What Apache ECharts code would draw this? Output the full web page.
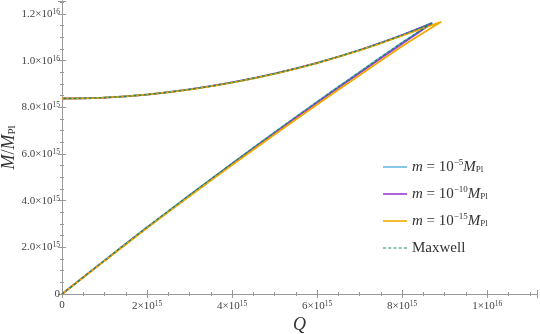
<!DOCTYPE html>
<html>
<head>
<meta charset="utf-8">
<title>M vs Q</title>
<script src="https://cdn.jsdelivr.net/npm/echarts@6/dist/echarts.min.js"></script>
<style>
  html, body { margin: 0; padding: 0; background: #fff; }
  #chart { width: 540px; height: 334px; }
</style>
</head>
<body>
<div id="chart"></div>
<script>
// values in units of 1e15
// each curve: lower branch out to the cusp, then upper branch back to Q = 0
var q5  = [0, 1, 2, 3, 4, 5, 6, 7, 8, 8.71, 8, 7, 6, 5, 4, 3, 2, 1, 0];
var m5  = [0, 1.44, 2.86, 4.24, 5.6, 6.93, 8.24, 9.52, 10.78, 11.62, 11.1, 10.46, 9.91, 9.45, 9.07, 8.77, 8.55, 8.42, 8.38];
var q10 = [0, 1, 2, 3, 4, 5, 6, 7, 8, 8.69, 8, 7, 6, 5, 4, 3, 2, 1, 0];
var m10 = [0, 1.43, 2.85, 4.22, 5.58, 6.9, 8.2, 9.47, 10.73, 11.6, 11.1, 10.46, 9.91, 9.45, 9.07, 8.77, 8.55, 8.42, 8.38];
var q15 = [0, 1, 2, 3, 4, 5, 6, 7, 8, 8.92, 8, 7, 6, 5, 4, 3, 2, 1, 0];
var m15 = [0, 1.42, 2.83, 4.19, 5.53, 6.84, 8.12, 9.38, 10.62, 11.67, 11.07, 10.44, 9.9, 9.44, 9.06, 8.76, 8.55, 8.42, 8.38];
var qMax = [0, 1, 2, 3, 4, 5, 6, 7, 8, 8.71, 8, 7, 6, 5, 4, 3, 2, 1, 0];
var mMax = [0, 1.44, 2.86, 4.24, 5.6, 6.93, 8.24, 9.52, 10.78, 11.62, 11.1, 10.46, 9.91, 9.45, 9.07, 8.77, 8.55, 8.42, 8.38];

var names = ['m5', 'm10', 'm15', 'Maxwell'];
var colors = ['#68b8e2', '#9a3ad8', '#f2a900', '#1d8a5e'];

function pairs(qs, ms) {
  return qs.map(function (q, i) { return [q * 1e15, ms[i] * 1e15]; });
}

function xLabel(v) {
  if (v === 0) return '{m|0}';
  var e = Math.floor(Math.log10(v) + 1e-9);
  var mant = Math.round(v / Math.pow(10, e));
  return '{m|' + mant + '×10}{e|' + e + '}';
}
function yLabel(v) {
  if (v === 0) return '{m|0}';
  var e = Math.floor(Math.log10(v) + 1e-9);
  var mant = (v / Math.pow(10, e)).toFixed(1);
  return '{m|' + mant + '×10}{e|' + e + '}';
}

var tickRich = {
  m: { fontFamily: 'Liberation Serif', fontSize: 11, color: '#444' },
  e: { fontFamily: 'Liberation Serif', fontSize: 7.5, color: '#444', verticalAlign: 'top', padding: [0, 0, 4, 0] }
};

var legendRich = {
  i: { fontFamily: 'Liberation Serif', fontStyle: 'italic', fontSize: 15, color: '#333' },
  t: { fontFamily: 'Liberation Serif', fontSize: 15, color: '#333' },
  sup: { fontFamily: 'Liberation Serif', fontSize: 9, color: '#333', padding: [0, 0, 8, 0] },
  sub: { fontFamily: 'Liberation Serif', fontSize: 9, color: '#333', padding: [6, 0, 0, 0] }
};
var legendText = {
  m5: '{i|m}{t| = 10}{sup|−5}{i|M}{sub|Pl}',
  m10: '{i|m}{t| = 10}{sup|−10}{i|M}{sub|Pl}',
  m15: '{i|m}{t| = 10}{sup|−15}{i|M}{sub|Pl}',
  Maxwell: '{t|Maxwell}'
};
var lineIcon = 'rect';
var dashIcon = 'path://M0,0h3v1h-3z M5,0h3v1h-3z M10,0h3v1h-3z M15,0h3v1h-3z M20,0h3v1h-3z';

var XMAX = 1.117e16, YMAX = 1.256e16;
var axisLineStyle = { color: '#999', width: 1 };

var chart = echarts.init(document.getElementById('chart'));
chart.setOption({
  animation: false,
  grid: { left: 62, right: 3, top: 1, bottom: 40, outerBoundsMode: 'none', containLabel: false },
  legend: {
    orient: 'vertical',
    left: 378, top: 153,
    itemWidth: 24, itemHeight: 1.6, itemGap: 9,
    data: [
      { name: 'm5', icon: lineIcon },
      { name: 'm10', icon: lineIcon },
      { name: 'm15', icon: lineIcon },
      { name: 'Maxwell', icon: dashIcon }
    ],
    formatter: function (n) { return legendText[n]; },
    textStyle: { rich: legendRich, lineHeight: 18 }
  },
  xAxis: [{
    type: 'value', min: 0, max: XMAX, interval: 2e15,
    name: '{q|Q}', nameLocation: 'middle', nameGap: 19,
    nameTextStyle: { rich: { q: { fontFamily: 'Liberation Serif', fontStyle: 'italic', fontSize: 18, color: '#333' } } },
    axisLine: { lineStyle: axisLineStyle },
    axisTick: { inside: true, length: 4, lineStyle: axisLineStyle },
    minorTick: { show: true, splitNumber: 4, length: 2, lineStyle: axisLineStyle },
    splitLine: { show: false },
    axisLabel: { formatter: xLabel, rich: tickRich, margin: 6, showMaxLabel: false }
  }, {
    type: 'value', position: 'top', min: 0, max: XMAX, interval: 2e15,
    axisLine: { show: true, lineStyle: axisLineStyle },
    axisTick: { inside: true, length: 4, lineStyle: axisLineStyle },
    minorTick: { show: true, splitNumber: 4, length: 2, lineStyle: axisLineStyle },
    splitLine: { show: false },
    axisLabel: { show: false }
  }],
  yAxis: [{
    type: 'value', min: 0, max: YMAX, interval: 2e15,
    name: '{i|M}{t|/}{i|M}{s|Pl}', nameLocation: 'middle', nameGap: 44, nameRotate: 90,
    nameMoveOverlap: false,
    nameTextStyle: { rich: {
      i: { fontFamily: 'Liberation Serif', fontStyle: 'italic', fontSize: 18, color: '#333' },
      t: { fontFamily: 'Liberation Serif', fontSize: 18, color: '#333' },
      s: { fontFamily: 'Liberation Serif', fontSize: 11, color: '#333', padding: [7, 0, 0, 0] }
    } },
    axisLine: { show: true, lineStyle: axisLineStyle },
    axisTick: { inside: true, length: 4, lineStyle: axisLineStyle },
    minorTick: { show: true, splitNumber: 4, length: 2, lineStyle: axisLineStyle },
    splitLine: { show: false },
    axisLabel: { formatter: yLabel, rich: tickRich, margin: 2, showMaxLabel: false }
  }, {
    type: 'value', position: 'right', min: 0, max: YMAX, interval: 2e15,
    axisLine: { show: true, lineStyle: axisLineStyle },
    axisTick: { inside: true, length: 4, lineStyle: axisLineStyle },
    minorTick: { show: true, splitNumber: 4, length: 2, lineStyle: axisLineStyle },
    splitLine: { show: false },
    axisLabel: { show: false }
  }],
  series: [
    { name: 'm5', type: 'line', data: pairs(q5, m5), smooth: 0.3, symbol: 'none', color: colors[0], lineStyle: { width: 1.8 } },
    { name: 'm10', type: 'line', data: pairs(q10, m10), smooth: 0.3, symbol: 'none', color: colors[1], lineStyle: { width: 1.8 } },
    { name: 'm15', type: 'line', data: pairs(q15, m15), smooth: 0.3, symbol: 'none', color: colors[2], lineStyle: { width: 1.8 } },
    { name: 'Maxwell', type: 'line', data: pairs(qMax, mMax), smooth: 0.3, symbol: 'none', color: colors[3], lineStyle: { width: 1.3, type: [3, 2] } }
  ]
});
</script>
</body>
</html>
